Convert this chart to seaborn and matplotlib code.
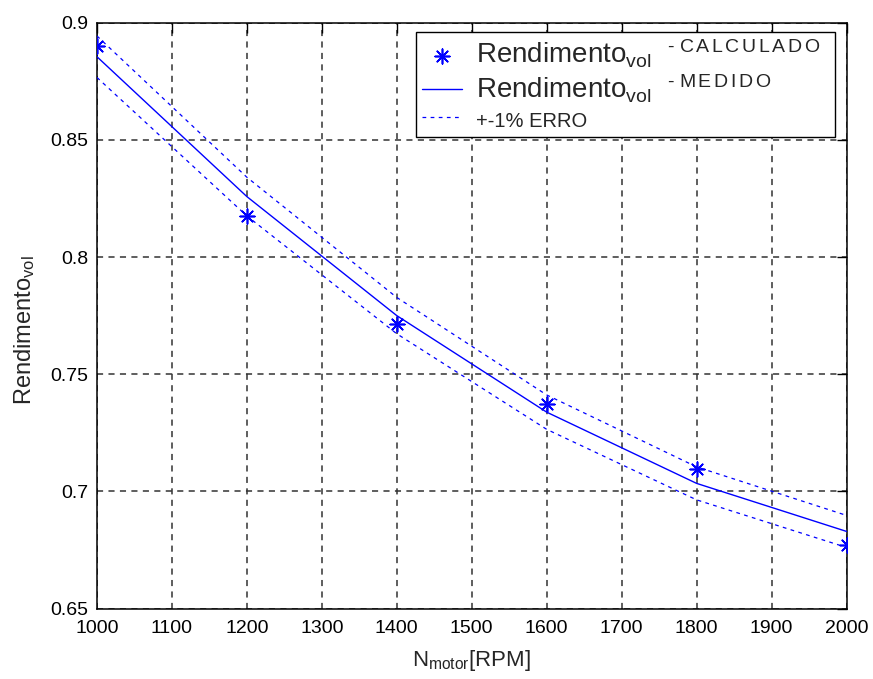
import numpy as np
import pandas as pd
import seaborn as sns
import matplotlib.pyplot as plt

# dados
rpm = [1000, 1200, 1400, 1600, 1800, 2000]
rend_medido = [0.8855, 0.8258, 0.7750, 0.7338, 0.7034, 0.6829]
rend_calculado = [0.8902, 0.8173, 0.7714, 0.7372, 0.7094, 0.6772]
erro = 0.01
xticks = [1000, 1100, 1200, 1300, 1400, 1500, 1600, 1700, 1800, 1900, 2000]
yticks = [0.65, 0.7, 0.75, 0.8, 0.85, 0.9]
yticklabels = ["0.65", "0.7", "0.75", "0.8", "0.85", "0.9"]

lbl_calc = r"Rendimento$_{\mathrm{vol}}\ \ ^{\text{-}\ \mathrm{C\,A\,L\,C\,U\,L\,A\,D\,O}}$" + "\u00a0\u00a0"
lbl_med = r"Rendimento$_{\mathrm{vol}}\ \ ^{\text{-}\ \mathrm{M\,E\,D\,I\,D\,O}}$"
lbl_erro = "+-1% ERRO"

sns.set_style("white")
plt.rcParams['font.family'] = ['Liberation Sans', 'DejaVu Sans']
plt.rcParams['mathtext.fontset'] = 'custom'
plt.rcParams['mathtext.rm'] = 'Liberation Sans'
plt.rcParams['mathtext.it'] = 'Liberation Sans'

df = pd.DataFrame({"rpm": rpm, "medido": rend_medido, "calculado": rend_calculado})
df["sup"] = df["medido"] * (1 + erro)
df["inf"] = df["medido"] * (1 - erro)

fig = plt.figure(figsize=(8.73, 6.79), dpi=100)
ax = fig.add_axes([0.111, 0.1038, 0.8587, 0.8628])

sns.scatterplot(data=df, x="rpm", y="calculado", ax=ax, marker=(8, 2, 0), s=110,
                color="blue", linewidth=1.2, zorder=4, label=lbl_calc)
sns.lineplot(data=df, x="rpm", y="medido", ax=ax, color="blue", linewidth=1.0,
             zorder=3, label=lbl_med)
sns.lineplot(data=df, x="rpm", y="sup", ax=ax, color="blue", linewidth=0.9,
             linestyle=(0, (3, 3.5)), zorder=3, label=lbl_erro)
sns.lineplot(data=df, x="rpm", y="inf", ax=ax, color="blue", linewidth=0.9,
             linestyle=(0, (3, 3.5)), zorder=3)

ax.set_xlim(1000, 2000)
ax.set_ylim(0.65, 0.9)
ax.set_xticks(xticks)
ax.set_yticks(yticks)
ax.set_yticklabels(yticklabels)
ax.grid(True, color="#333333", linestyle=(0, (4, 3.5)), linewidth=1.1)
ax.tick_params(direction="in", length=7, width=1, top=True, right=True,
               labelsize=14, colors="black")
ax.tick_params(axis="x", pad=8)
ax.tick_params(axis="y", pad=6)
for s in ax.spines.values():
    s.set_color("black")
    s.set_linewidth(1.1)

ax.set_xlabel(r"N$_{\mathrm{motor}}$[RPM]", fontsize=16, labelpad=8)
ax.set_ylabel(r"Rendimento$_{\mathrm{vol}}$", fontsize=17, labelpad=10)
ax.yaxis.label.set_y(0.475)

leg = ax.legend(loc="upper right", bbox_to_anchor=(0.985, 0.984), fontsize=20,
                frameon=True, fancybox=False, framealpha=1, edgecolor="black",
                borderpad=0.2, labelspacing=0.1, handlelength=1.45,
                handletextpad=0.5, borderaxespad=0)
leg.get_frame().set_linewidth(1.0)
leg.get_texts()[2].set_fontsize(14.5)

plt.savefig("out.png", dpi=100)
